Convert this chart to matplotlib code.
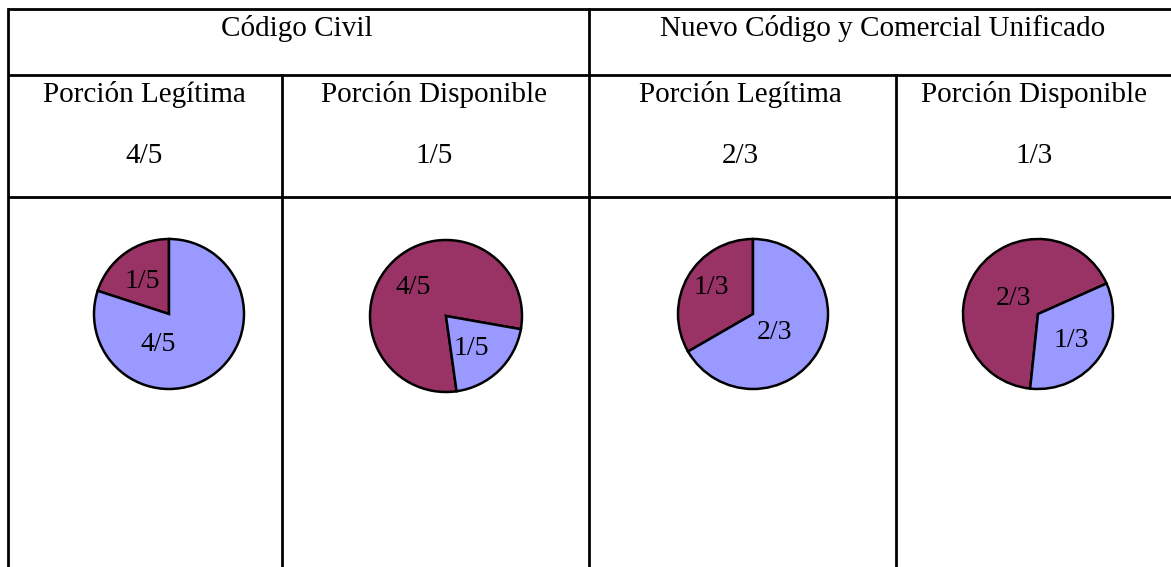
import matplotlib.pyplot as plt

plt.rcParams['font.family'] = ['Liberation Serif', 'DejaVu Serif']

W, H = 1171, 567

# Datos
groups = ["Código Civil", "Nuevo Código y Comercial Unificado"]
columns = ["Porción Legítima", "Porción Disponible", "Porción Legítima", "Porción Disponible"]
shares = ["4/5", "1/5", "2/3", "1/3"]
pie_values = [[1/5, 4/5], [4/5, 1/5], [1/3, 2/3], [2/3, 1/3]]
pie_labels = [["1/5", "4/5"], ["4/5", "1/5"], ["1/3", "2/3"], ["2/3", "1/3"]]
maroon = "#993366"
blue = "#9999FF"
pie_colors = [[maroon, blue], [maroon, blue], [maroon, blue], [maroon, blue]]

# Layout (pixels)
col_edges = [8, 282, 588.5, 896, W]
row_lines = [8.5, 74.5, 196.5]
group_x = [297, 883]
col_x = [144, 434, 740, 1034]
pie_centers = [(169, 314), (446, 316), (753, 314), (1038, 314)]
pie_radius = [75, 76, 75, 75]
start_angles = [90, -10, 90, 24]
label_pos = [[(-0.35, 0.43), (-0.15, -0.41)],
             [(-0.43, 0.38), (0.34, -0.43)],
             [(-0.55, 0.35), (0.29, -0.25)],
             [(-0.33, 0.21), (0.45, -0.35)]]

fig = plt.figure(figsize=(W / 100, H / 100), dpi=100)
ax = fig.add_axes([0, 0, 1, 1])
ax.set_xlim(0, W)
ax.set_ylim(H, 0)
ax.axis('off')

lw = 2.0
# table lines
for y in row_lines:
    ax.plot([col_edges[0], W], [y, y], color='black', lw=lw, solid_capstyle='butt')
ax.plot([col_edges[0], col_edges[0]], [row_lines[0], H], color='black', lw=lw)
ax.plot([col_edges[2], col_edges[2]], [row_lines[0], H], color='black', lw=lw)
for x in (col_edges[1], col_edges[3]):
    ax.plot([x, x], [row_lines[1], H], color='black', lw=lw)

fs = 21
for g, x in zip(groups, group_x):
    ax.text(x, 36, g, ha='center', va='baseline', fontsize=fs)
for c, s, x in zip(columns, shares, col_x):
    ax.text(x, 102, c, ha='center', va='baseline', fontsize=fs)
    ax.text(x, 163, s, ha='center', va='baseline', fontsize=fs)

# pies
pad = 1.1
for i in range(4):
    cx, cy = pie_centers[i]
    r = pie_radius[i] * pad
    pax = fig.add_axes([(cx - r) / W, 1 - (cy + r) / H, 2 * r / W, 2 * r / H])
    pax.pie(pie_values[i], colors=pie_colors[i], startangle=start_angles[i],
            counterclock=True, wedgeprops=dict(edgecolor='black', linewidth=1.8))
    pax.set_xlim(-pad, pad)
    pax.set_ylim(-pad, pad)
    pax.set_aspect('equal')
    pax.axis('off')
    for lab, (lx, ly) in zip(pie_labels[i], label_pos[i]):
        pax.text(lx, ly, lab, ha='center', va='center', fontsize=20)

fig.savefig("out.png", dpi=100)
